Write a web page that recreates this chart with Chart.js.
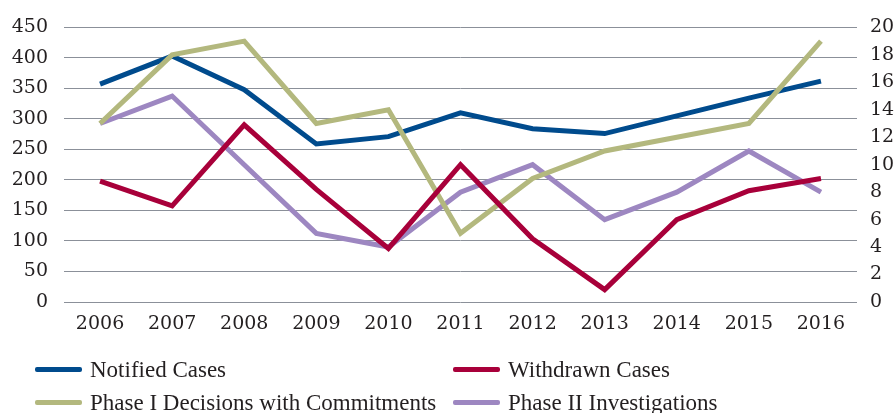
<!DOCTYPE html>
<html lang="en">
<head>
    <meta charset="UTF-8">
    <title>Merger Cases 2006-2016</title>
    <script src="https://cdn.jsdelivr.net/npm/chart.js"></script>
    <style>
        html, body { margin: 0; padding: 0; background: #fff; }
        .wrap { position: relative; width: 896px; height: 413px; }
        canvas { display: block; }
        .legend {
            position: absolute; left: 35px; top: 356px;
            display: grid; grid-template-columns: 418px 400px;
            row-gap: 6px;
            font-family: "Liberation Serif", serif; font-size: 23px; color: #231f20;
        }
        .legend .item { display: flex; align-items: center; height: 27px; white-space: nowrap; }
        .legend .swatch { width: 47px; height: 5px; border-radius: 2px; margin-right: 8px; }
    </style>
</head>
<body>
    <div class="wrap">
        <canvas id="chart" width="896" height="413"></canvas>
        <div class="legend" id="legend"></div>
    </div>

    <script>
        const years = ['2006', '2007', '2008', '2009', '2010', '2011', '2012', '2013', '2014', '2015', '2016'];

        // left axis
        const notifiedCases = [357, 403, 348, 259, 271, 310, 284, 276, 305, 334, 362];
        // right axis
        const withdrawnCases = [8.8, 7, 12.9, 8.2, 3.9, 10, 4.6, 0.9, 6, 8.1, 9];
        const phase1Commitments = [13, 18, 19, 13, 14, 5, 9, 11, 12, 13, 19];
        const phase2Investigations = [13, 15, 10, 5, 4, 8, 10, 6, 8, 11, 8];

        const seriesNames = ['Notified Cases', 'Withdrawn Cases', 'Phase I Decisions with Commitments', 'Phase II Investigations'];
        const seriesColors = ['#004b8d', '#a8003a', '#b3b87e', '#9d87c1'];

        const tickFont = { family: 'DejaVu Serif', size: 19 };

        function line(i, data, axis, order) {
            return {
                label: seriesNames[i],
                data: data,
                yAxisID: axis,
                borderColor: seriesColors[i],
                backgroundColor: seriesColors[i],
                borderWidth: 5,
                pointRadius: 0,
                tension: 0,
                fill: false,
                order: order
            };
        }

        const chart = new Chart(document.getElementById('chart'), {
            type: 'line',
            data: {
                labels: years,
                datasets: [
                    line(0, notifiedCases, 'y', 4),
                    line(1, withdrawnCases, 'y2', 1),
                    line(2, phase1Commitments, 'y2', 2),
                    line(3, phase2Investigations, 'y2', 3)
                ]
            },
            options: {
                responsive: false,
                animation: false,
                layout: { padding: { left: 0, right: 0, top: 14, bottom: 77 } },
                plugins: { legend: { display: false }, tooltip: { enabled: false } },
                scales: {
                    x: {
                        offset: true,
                        grid: { display: false, drawTicks: false },
                        border: { display: false },
                        ticks: { font: tickFont, color: '#231f20', padding: 11, maxRotation: 0 },
                        afterFit: s => { s.height = 34; }
                    },
                    y: {
                        position: 'left',
                        min: 0, max: 450,
                        grid: { color: '#8b9099', lineWidth: 1, drawTicks: false },
                        border: { display: false },
                        ticks: { stepSize: 50, font: tickFont, color: '#231f20', padding: 16 },
                        afterFit: s => { s.width = 64; }
                    },
                    y2: {
                        position: 'right',
                        min: 0, max: 20,
                        grid: { display: false, drawTicks: false },
                        border: { display: false },
                        ticks: { stepSize: 2, font: tickFont, color: '#231f20', padding: 13 },
                        afterFit: s => { s.width = 39; }
                    }
                }
            }
        });

        // legend in two columns, same order as the original
        const legend = document.getElementById('legend');
        chart.data.datasets.forEach(ds => {
            const item = document.createElement('div');
            item.className = 'item';
            item.innerHTML = '<span class="swatch" style="background:' + ds.borderColor + '"></span>' + ds.label;
            legend.appendChild(item);
        });
    </script>
</body>
</html>
